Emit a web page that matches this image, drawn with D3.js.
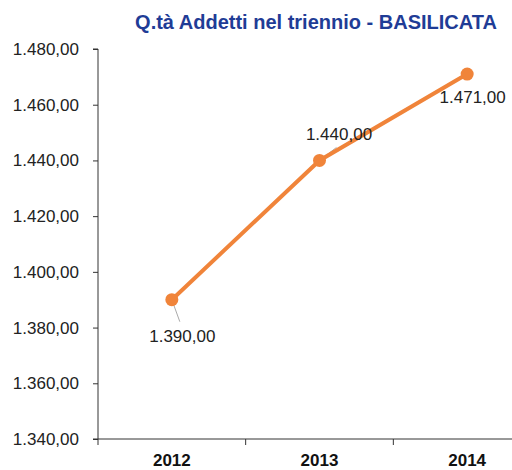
<!DOCTYPE html>
<html><head><meta charset="utf-8">
<script src="https://cdn.jsdelivr.net/npm/d3@7"></script>
<style>body{margin:0;background:#fff}svg{display:block}</style>
</head><body>
<svg id="c" width="512" height="470"></svg>
<script>
const categories = ["2012","2013","2014"];
const values = [1390, 1440, 1471];
const yTicks = [1340,1360,1380,1400,1420,1440,1460,1480];
const labels = ["1.390,00","1.440,00","1.471,00"];
const title = "Q.tà Addetti nel triennio - BASILICATA";

const fmt = v => d3.format(",.2f")(v).replace(/,/g,"#").replace(/\./g,",").replace(/#/g,".");
const svg = d3.select("#c");
const x = d3.scaleBand().domain(categories).range([98, 541]);
const y = d3.scaleLinear().domain([1340,1480]).range([439, 49]);
const font = "Liberation Sans, Arial, sans-serif";

svg.append("text").attr("x",316).attr("y",29).attr("text-anchor","middle")
  .attr("font-family",font).attr("font-weight","bold").attr("font-size",20)
  .attr("fill","#1F3C96").text(title);

const ya = svg.append("g").attr("transform","translate(98,0)")
  .call(d3.axisLeft(y).tickValues(yTicks).tickSize(5).tickPadding(14).tickFormat(fmt));
ya.select(".domain").attr("stroke","#333").attr("d","M-5,49H0V439H-5");
ya.selectAll(".tick line").attr("stroke","#333");
ya.selectAll("text").attr("font-family",font).attr("font-size",17).attr("fill","#222");

const xa = svg.append("g").attr("transform","translate(0,439)")
  .call(d3.axisBottom(x).tickSize(0).tickPadding(15));
xa.select(".domain").attr("stroke","#333").attr("d","M98,0H541");
xa.selectAll("text").attr("font-family",font).attr("font-size",17).attr("font-weight","bold").attr("fill","#111");
xa.selectAll(".bt").data(categories.concat(["_end"])).enter().append("line")
  .attr("x1",(d,i)=> i<3 ? x(d) : 541).attr("x2",(d,i)=> i<3 ? x(d) : 541)
  .attr("y1",0).attr("y2",6).attr("stroke","#333");

const px = d => x(d) + x.bandwidth()/2;
const data = categories.map((c,i)=>({c, v: values[i], l: labels[i]}));

// leader lines
const leaders = [[8,22],[17,-13],null];
data.forEach((d,i)=>{
  if(!leaders[i]) return;
  svg.append("line").attr("x1",px(d.c)).attr("y1",y(d.v))
    .attr("x2",px(d.c)+leaders[i][0]).attr("y2",y(d.v)+leaders[i][1])
    .attr("stroke","#aaa").attr("stroke-width",1);
});

svg.append("path").datum(data)
  .attr("d", d3.line().x(d=>px(d.c)).y(d=>y(d.v)))
  .attr("fill","none").attr("stroke","#F0843A").attr("stroke-width",4);
svg.selectAll(".pt").data(data).enter().append("circle")
  .attr("cx",d=>px(d.c)).attr("cy",d=>y(d.v)).attr("r",6.5).attr("fill","#F0843A");

const lblOff = [[10.5,42],[19.5,-20],[5.5,29]];
svg.selectAll(".lbl").data(data).enter().append("text")
  .attr("x",(d,i)=>px(d.c)+lblOff[i][0]).attr("y",(d,i)=>y(d.v)+lblOff[i][1])
  .attr("text-anchor","middle").attr("font-family",font).attr("font-size",17).attr("fill","#222")
  .text(d=>d.l);
</script>
</body></html>
